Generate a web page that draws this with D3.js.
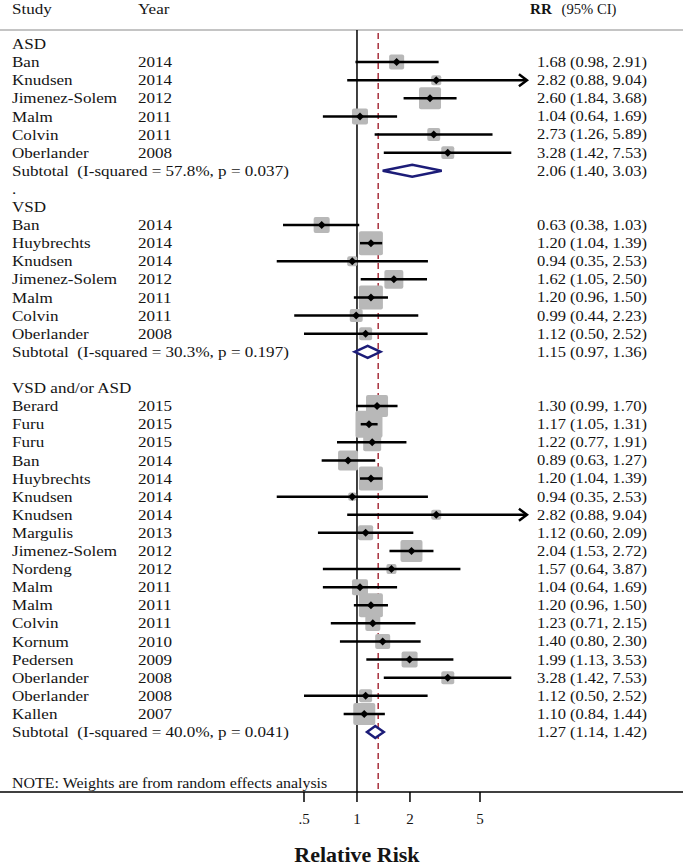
<!DOCTYPE html>
<html>
<head>
<meta charset="utf-8">
<script src="https://cdn.jsdelivr.net/npm/d3@7"></script>
<style>
  body { margin: 0; background: #fff; }
  text { font-family: "Liberation Serif", "DejaVu Serif", serif; fill: #141414; white-space: pre; }
</style>
</head>
<body>
<svg id="forest" width="685" height="868"></svg>
<script>
// subgroup labels
var groups = ["ASD", "VSD", "VSD and/or ASD"];
var subtotalLabels = [
	"Subtotal  (I-squared = 57.8%, p = 0.037)",
	"Subtotal  (I-squared = 30.3%, p = 0.197)",
	"Subtotal  (I-squared = 40.0%, p = 0.041)"
];

// studies, one array per field, in drawing order; group index in "studyGroup"
var studyGroup = [0,0,0,0,0,0, 1,1,1,1,1,1,1, 2,2,2,2,2,2,2,2,2,2,2,2,2,2,2,2,2,2];
var studyNames = ["Ban","Knudsen","Jimenez-Solem","Malm","Colvin","Oberlander",
	"Ban","Huybrechts","Knudsen","Jimenez-Solem","Malm","Colvin","Oberlander",
	"Berard","Furu","Furu","Ban","Huybrechts","Knudsen","Knudsen","Margulis","Jimenez-Solem",
	"Nordeng","Malm","Malm","Colvin","Kornum","Pedersen","Oberlander","Oberlander","Kallen"];
var studyYears = [2014,2014,2012,2011,2011,2008,
	2014,2014,2014,2012,2011,2011,2008,
	2015,2015,2015,2014,2014,2014,2014,2013,2012,
	2012,2011,2011,2011,2010,2009,2008,2008,2007];
var rr   = [1.68,2.82,2.60,1.04,2.73,3.28, 0.63,1.20,0.94,1.62,1.20,0.99,1.12,
	1.30,1.17,1.22,0.89,1.20,0.94,2.82,1.12,2.04,1.57,1.04,1.20,1.23,1.40,1.99,3.28,1.12,1.10];
var ciLo = [0.98,0.88,1.84,0.64,1.26,1.42, 0.38,1.04,0.35,1.05,0.96,0.44,0.50,
	0.99,1.05,0.77,0.63,1.04,0.35,0.88,0.60,1.53,0.64,0.64,0.96,0.71,0.80,1.13,1.42,0.50,0.84];
var ciHi = [2.91,9.04,3.68,1.69,5.89,7.53, 1.03,1.39,2.53,2.50,1.50,2.23,2.52,
	1.70,1.31,1.91,1.27,1.39,2.53,9.04,2.09,2.72,3.87,1.69,1.50,2.15,2.30,3.53,7.53,2.52,1.44];
// relative weights
var weights = [9.4,4.2,20.2,10.7,7.0,7.0, 10.7,24.0,4.2,15.0,24.0,7.0,7.0,
	20.2,30.4,13.5,16.7,24.0,2.7,4.2,9.4,20.2,4.2,10.7,24.0,9.4,9.4,10.7,7.0,7.0,20.2];

// subtotals
var subRR = [2.06, 1.15, 1.27];
var subLo = [1.40, 0.97, 1.14];
var subHi = [3.03, 1.36, 1.42];

var overallRR = 1.32;
var ticks = [0.5, 1, 2, 5];
var clipMax = 9;

var svg = d3.select("#forest");
var stretch = 1.1;	// the source picture is a bit wider than tall

var x = d3.scaleLog().domain([0.5, 5]).range([304, 480]);
var boxSide = d3.scaleSqrt().domain([0, 30.4]).range([0, 27]);

// build row list
var rows = [];
groups.forEach(function(g, gi) {
	rows.push({type: "group", label: g});
	studyNames.forEach(function(n, i) {
		if(studyGroup[i] !== gi) return;
		rows.push({type: "study", label: n, year: studyYears[i], rr: rr[i], lo: ciLo[i], hi: ciHi[i], w: weights[i]});
	});
	rows.push({type: "sub", label: subtotalLabels[gi], rr: subRR[gi], lo: subLo[gi], hi: subHi[gi]});
	if(gi < groups.length - 1)
		rows.push({type: "blank", label: gi === 0 ? "." : ""});
});

var y = d3.scaleLinear().domain([0, rows.length - 1]).range([44, 732]);
var axisY = 792;

function fmt(v) { return v.toFixed(2); }

// header
svg.append("text").attr("class", "st").attr("x", 12).attr("y", 14).style("font-size", "15.5px").text("Study");
svg.append("text").attr("class", "st").attr("x", 138).attr("y", 14).style("font-size", "15.5px").text("Year");
var hdr = svg.append("text").attr("class", "st").attr("x", 530).attr("y", 14).style("font-size", "15.5px");
hdr.append("tspan").style("font-weight", "bold").text("RR");
hdr.append("tspan").attr("dx", 10).style("font-size", "15px").text("(95% CI)");
svg.append("line").attr("x1", 0).attr("x2", 683).attr("y1", 30).attr("y2", 30)
	.attr("stroke", "#b0b0b0").attr("stroke-width", 1.5);

// null line and overall dashed line
svg.append("line").attr("x1", x(1)).attr("x2", x(1)).attr("y1", 30).attr("y2", axisY)
	.attr("stroke", "#000").attr("stroke-width", 1.5);
svg.append("line").attr("x1", x(overallRR)).attr("x2", x(overallRR)).attr("y1", 33).attr("y2", axisY)
	.attr("stroke", "#a8303c").attr("stroke-width", 1.5).attr("stroke-dasharray", "6,4");

var rowG = svg.selectAll("g.row").data(rows).enter().append("g")
	.attr("class", "row")
	.attr("transform", function(d, i) { return "translate(0," + y(i) + ")"; });

rowG.append("text").attr("class", "st").attr("x", 12).attr("dy", "0.33em").style("font-size", "15.5px")
	.text(function(d) { return d.label; });
rowG.filter(function(d) { return d.type === "study"; }).append("text")
	.attr("class", "st").attr("x", 138).attr("dy", "0.33em").style("font-size", "15.5px")
	.text(function(d) { return d.year; });
rowG.filter(function(d) { return d.type === "study" || d.type === "sub"; }).append("text")
	.attr("class", "st").attr("x", 537).attr("dy", "0.33em").style("font-size", "15px")
	.text(function(d) { return fmt(d.rr) + " (" + fmt(d.lo) + ", " + fmt(d.hi) + ")"; });

var st = rowG.filter(function(d) { return d.type === "study"; });

// weight boxes
st.append("rect")
	.attr("x", function(d) { return x(d.rr) - boxSide(d.w) / 2; })
	.attr("y", function(d) { return -boxSide(d.w) / 2; })
	.attr("width", function(d) { return boxSide(d.w); })
	.attr("height", function(d) { return boxSide(d.w); })
	.attr("rx", 2)
	.attr("fill", "#b8b8b8");

// CI lines
st.append("line")
	.attr("x1", function(d) { return x(d.lo); })
	.attr("x2", function(d) { return x(Math.min(d.hi, clipMax)); })
	.attr("stroke", "#000").attr("stroke-width", 2.5);

// arrow heads where CI runs past the scale
st.filter(function(d) { return d.hi > clipMax; }).append("path")
	.attr("d", function(d) {
		var t = x(clipMax) + 2;
		return "M" + (t - 8) + ",-6L" + t + ",0L" + (t - 8) + ",6";
	})
	.attr("fill", "none").attr("stroke", "#000").attr("stroke-width", 2.5);

// point estimates
st.append("path")
	.attr("d", function(d) {
		var c = x(d.rr), r = 4;
		return "M" + c + "," + (-r) + "L" + (c + r) + ",0L" + c + "," + r + "L" + (c - r) + ",0Z";
	})
	.attr("fill", "#000");

// subtotal diamonds
rowG.filter(function(d) { return d.type === "sub"; }).append("path")
	.attr("d", function(d) {
		var h = 6;
		return "M" + x(d.lo) + ",0L" + x(d.rr) + "," + (-h) + "L" + x(d.hi) + ",0L" + x(d.rr) + "," + h + "Z";
	})
	.attr("fill", "#fff").attr("stroke", "#1c1c78").attr("stroke-width", 2.5);

// note
svg.append("text").attr("class", "st").attr("x", 12).attr("y", 783).attr("dy", "0.33em").style("font-size", "14.5px")
	.text("NOTE: Weights are from random effects analysis");

// x axis
var axisG = svg.append("g").attr("transform", "translate(0," + axisY + ")");
axisG.append("line").attr("x1", 0).attr("x2", 683).attr("stroke", "#000").attr("stroke-width", 1.5);
axisG.selectAll("g.tick").data(ticks).enter().append("g")
	.attr("class", "tick")
	.each(function(t) {
		var g = d3.select(this);
		g.append("line").attr("x1", x(t)).attr("x2", x(t)).attr("y1", 0).attr("y2", 10)
			.attr("stroke", "#000").attr("stroke-width", 1.5);
		g.append("text").attr("x", x(t)).attr("y", 27).attr("dy", "0.33em")
			.attr("text-anchor", "middle").style("font-size", "15px")
			.text(t === 0.5 ? ".5" : t);
	});

svg.append("text").attr("x", x(1)).attr("y", 862)
	.attr("text-anchor", "middle").style("font-size", "22px").style("font-weight", "bold")
	.text("Relative Risk");

// widen the body text a little to match the source's aspect
svg.selectAll("text.st").each(function() {
	var len = this.getComputedTextLength();
	if(len > 0)
		d3.select(this).attr("textLength", len * stretch).attr("lengthAdjust", "spacingAndGlyphs");
});
</script>
</body>
</html>
